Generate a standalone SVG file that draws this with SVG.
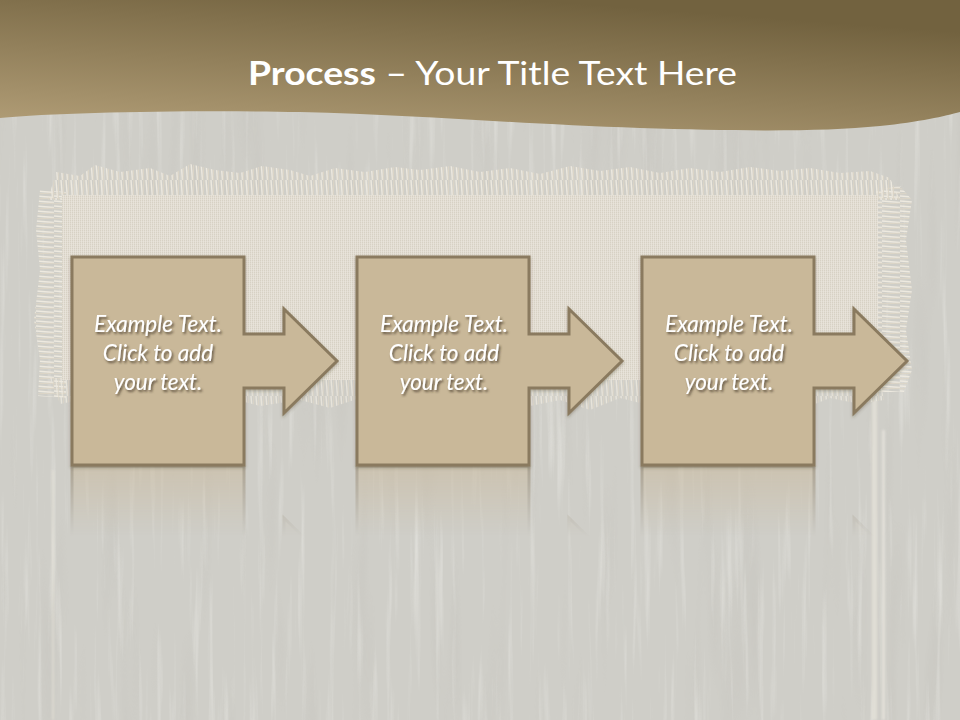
<svg xmlns="http://www.w3.org/2000/svg" width="960" height="720" viewBox="0 0 960 720">
<style>
.node-shape{fill:#c9b899;stroke:#8a7a5f;stroke-width:3;stroke-linejoin:miter}
.label{font-family:Lato,"Open Sans","Liberation Sans",sans-serif;font-style:italic;font-size:22.5px;fill:#ffffff;text-anchor:middle;white-space:pre}
.title{font-family:Lato,"Open Sans","Liberation Sans",sans-serif;font-size:33px;fill:#ffffff}
</style>
<defs>
<linearGradient id="band" x1="0" y1="1" x2="0.55" y2="0">
<stop offset="0" stop-color="#b39f78"/>
<stop offset="1" stop-color="#72623f"/>
</linearGradient>
<filter id="woodLight" x="0" y="0" width="100%" height="100%">
<feTurbulence type="fractalNoise" baseFrequency="0.14 0.006" numOctaves="3" seed="7"/>
<feColorMatrix type="matrix" values="0 0 0 0 1  0 0 0 0 1  0 0 0 0 0.97  2.4 0 0 0 -1.35"/>
</filter>
<filter id="woodDark" x="0" y="0" width="100%" height="100%">
<feTurbulence type="fractalNoise" baseFrequency="0.05 0.004" numOctaves="2" seed="21"/>
<feColorMatrix type="matrix" values="0 0 0 0 0.4  0 0 0 0 0.38  0 0 0 0 0.35  1.6 0 0 0 -0.9"/>
</filter>
<filter id="soft"><feGaussianBlur stdDeviation="1.2"/></filter>
<pattern id="weave" width="4" height="4" patternUnits="userSpaceOnUse">
<rect width="4" height="4" fill="#e0dbd0"/>
<path d="M0,0.5 H4 M0,2.5 H4" stroke="#d4cec1" stroke-width="0.8"/>
<path d="M1.5,0 V4 M3.5,0 V4" stroke="#ebe7de" stroke-width="0.7"/>
</pattern>
<pattern id="strandV" width="5" height="18" patternUnits="userSpaceOnUse">
<path d="M1,0 L2.5,18" stroke="#ede9df" stroke-width="1.4"/>
<path d="M3.8,0 L3.2,18" stroke="#dcd5c6" stroke-width="1"/>
</pattern>
<pattern id="strandH" width="18" height="5" patternUnits="userSpaceOnUse">
<path d="M0,1 L18,2.5" stroke="#ede9df" stroke-width="1.4"/>
<path d="M0,3.8 L18,3.2" stroke="#dcd5c6" stroke-width="1"/>
</pattern>
<filter id="shadow" x="-20%" y="-40%" width="140%" height="180%">
<feDropShadow dx="1.5" dy="2" stdDeviation="1.3" flood-color="#3d3324" flood-opacity="0.75"/>
</filter>
<filter id="boxShadow" x="-10%" y="-10%" width="120%" height="120%">
<feDropShadow dx="0" dy="1.5" stdDeviation="1.5" flood-color="#4a3f2e" flood-opacity="0.35"/>
</filter>
<linearGradient id="fade" x1="0" y1="0" x2="0" y2="1">
<stop offset="0" stop-color="#fff" stop-opacity="0.5"/>
<stop offset="1" stop-color="#fff" stop-opacity="0"/>
</linearGradient>
<mask id="reflMask" maskUnits="userSpaceOnUse" x="0" y="466" width="960" height="80">
<rect x="0" y="466" width="960" height="70" fill="url(#fade)"/>
</mask>
<path id="chev" d="M72,257 H244 V334 H284 V309 L337,361 L284,413 V388 H244 V465 H72 Z"/>
</defs>

<!-- wood background -->
<rect width="960" height="720" fill="#cfcec8"/>
<rect width="960" height="720" filter="url(#woodDark)" opacity="0.22"/>
<rect width="960" height="720" filter="url(#woodLight)" opacity="0.35"/>
<g filter="url(#soft)" opacity="0.6">
<rect x="872" y="400" width="5" height="320" fill="#ece8df"/>
<rect x="882" y="430" width="3" height="290" fill="#efebe3"/>
<rect x="52" y="470" width="2" height="250" fill="#e6e2d8"/>
</g>

<!-- burlap -->
<g id="burlap">
<path d="M40,190 L36,230 L40,270 L34,320 L40,360 L38,396 L66,398 L66,192 Z" fill="url(#strandH)"/>
<path d="M876,190 L900,186 L912,200 L906,240 L912,290 L906,330 L912,370 L904,392 L876,392 Z" fill="url(#strandH)"/>
<path d="M48,200 L56,172 L80,176 L95,165 L120,172 L150,168 L170,176 L190,164 L215,170 L240,173 L262,166 L290,170 L310,176 L335,168 L365,172 L395,167 L420,170 L450,166 L480,172 L510,168 L540,174 L570,166 L600,171 L630,167 L660,173 L690,168 L720,172 L750,167 L780,171 L810,168 L840,173 L870,171 L890,178 L900,200 Z" fill="url(#strandV)"/>
<path d="M50,378 L880,378 L884,400 L860,404 L830,398 L800,410 L770,398 L740,406 L700,400 L660,408 L620,398 L590,410 L560,400 L530,406 L490,398 L460,408 L430,400 L400,406 L360,398 L330,408 L300,400 L260,406 L230,398 L200,404 L160,398 L120,406 L90,398 L60,404 Z" fill="url(#strandV)" opacity="0.8"/>
<rect x="62" y="195" width="816" height="185" fill="url(#weave)"/>
</g>

<!-- header band -->
<path d="M0,0 H960 V112 C945,116 920,122 880,126 C820,132 740,131 640,128 C520,124 420,115 300,112 C200,110 60,112 0,118 Z" fill="url(#band)"/>
<text class="title" x="492.5" y="85" text-anchor="middle" textLength="489" lengthAdjust="spacingAndGlyphs"><tspan font-weight="bold">Process</tspan> – Your Title Text Here</text>

<!-- connectors: the arrows are drawn as part of each node shape -->
<g id="connectors"></g>

<!-- reflections -->
<g id="reflections" mask="url(#reflMask)">
<use href="#chev" class="node-shape" transform="translate(0,931) scale(1,-1)"/>
<use href="#chev" class="node-shape" transform="translate(285,931) scale(1,-1)"/>
<use href="#chev" class="node-shape" transform="translate(570,931) scale(1,-1)"/>
</g>

<g id="node1">
<use href="#chev" class="node-shape" filter="url(#boxShadow)"/>
<g class="label" filter="url(#shadow)">
<text x="158" y="332">Example Text.</text>
<text x="158" y="361">Click  to add</text>
<text x="158" y="390">your text.</text>
</g>
</g>
<g id="node2">
<use href="#chev" class="node-shape" transform="translate(285,0)" filter="url(#boxShadow)"/>
<g class="label" filter="url(#shadow)">
<text x="444" y="332">Example Text.</text>
<text x="444" y="361">Click  to add</text>
<text x="444" y="390">your text.</text>
</g>
</g>
<g id="node3">
<use href="#chev" class="node-shape" transform="translate(570,0)" filter="url(#boxShadow)"/>
<g class="label" filter="url(#shadow)">
<text x="729" y="332">Example Text.</text>
<text x="729" y="361">Click  to add</text>
<text x="729" y="390">your text.</text>
</g>
</g>
</svg>
